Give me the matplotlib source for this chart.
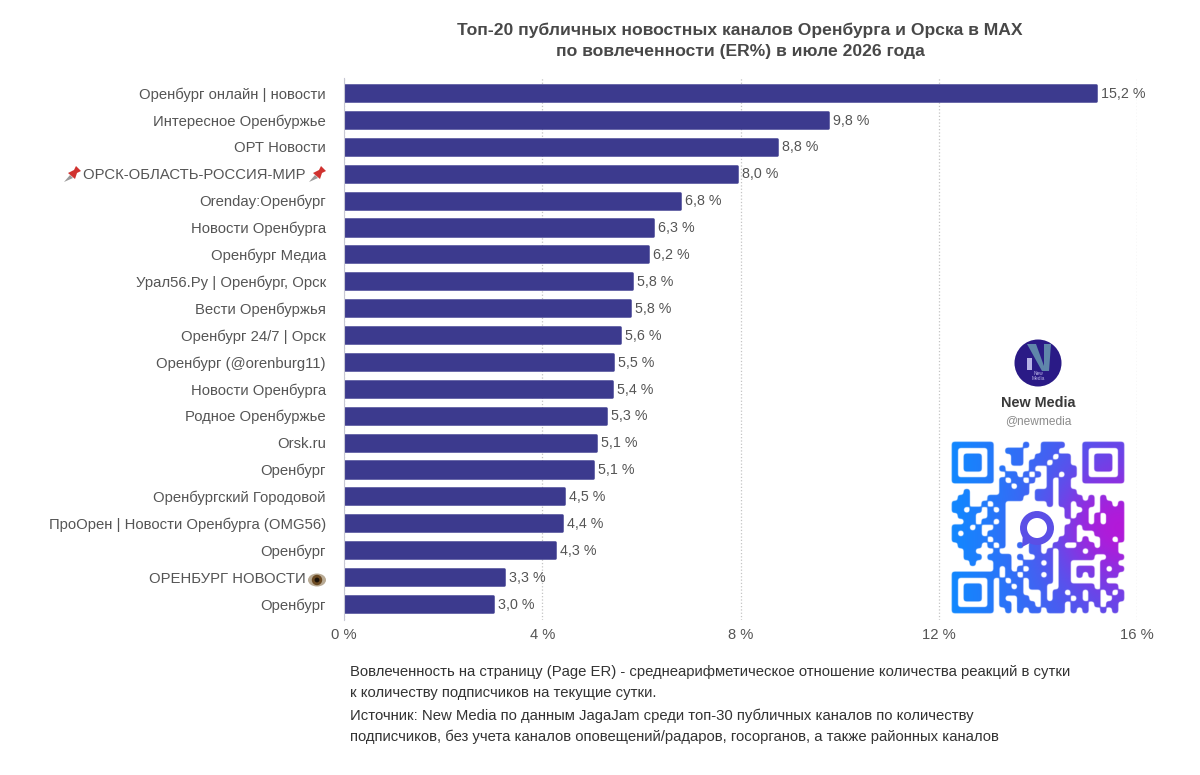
import matplotlib
matplotlib.use("Agg")
import matplotlib.pyplot as plt
from matplotlib.patches import Circle, Polygon, Rectangle, Ellipse
import numpy as np

plt.rcParams['font.family'] = ['Liberation Sans', 'DejaVu Sans']

channels = ["Оренбург онлайн | новости", "Интересное Оренбуржье", "ОРТ Новости",
            "ОРСК-ОБЛАСТЬ-РОССИЯ-МИР", "Orenday:Оренбург", "Новости Оренбурга",
            "Оренбург Медиа", "Урал56.Ру | Оренбург, Орск", "Вести Оренбуржья",
            "Оренбург 24/7 | Орск", "Оренбург (@orenburg11)", "Новости Оренбурга",
            "Родное Оренбуржье", "Orsk.ru", "Оренбург", "Оренбургский Городовой",
            "ПроОрен | Новости Оренбурга (OMG56)", "Оренбург", "ОРЕНБУРГ НОВОСТИ", "Оренбург"]
# bar lengths, the printed labels are rounded
er_values = [15.19, 9.79, 8.76, 7.95, 6.80, 6.26, 6.15, 5.83, 5.79, 5.59,
             5.45, 5.43, 5.31, 5.10, 5.04, 4.46, 4.42, 4.28, 3.25, 3.03]
er_labels = ["15,2 %", "9,8 %", "8,8 %", "8,0 %", "6,8 %", "6,3 %", "6,2 %", "5,8 %", "5,8 %", "5,6 %",
             "5,5 %", "5,4 %", "5,3 %", "5,1 %", "5,1 %", "4,5 %", "4,4 %", "4,3 %", "3,3 %", "3,0 %"]
x_ticks = [0, 4, 8, 12, 16]

title = "Топ-20 публичных новостных каналов Оренбурга и Орска в MAX\nпо вовлеченности (ER%) в июле 2026 года"
footer = ["Вовлеченность на страницу (Page ER) - среднеарифметическое отношение количества реакций в сутки",
          "к количеству подписчиков на текущие сутки.",
          "Источник: New Media по данным JagaJam среди топ-30 публичных каналов по количеству",
          "подписчиков, без учета каналов оповещений/радаров, госорганов, а также районных каналов"]

# QR modules
qr_rows = [
    "#######.....#..####...#######",
    "#.....#..###...###....#.....#",
    "#.###.#...##..###.##..#.###.#",
    "#.###.#...##.###.###..#.###.#",
    "#.###.#.#....#..#####.#.###.#",
    "#.....#..##.#.#.##.##.#.....#",
    "#######.#.##.#..#.##..#######",
    "........##.##...#.##.........",
    "..#.....#####.###.###........",
    ".##...######..###.####.#.#...",
    "###..#.##.......#.##.###.##.#",
    "##.##.#.#..........#..#..####",
    ".###..###..........#.##.#.###",
    "..##.##.#...........###.#.###",
    "###.#..##..........##.#######",
    "#.###.###..........##...#####",
    "######.##.........###.#..##.#",
    ".####.#.#..#.##..##..###.###",
    "..##...#.....##.#.####.#####",
    "..###.####.#..###.######..###",
    "...#...###..###.#.##.....###.",
    ".......#.#.#.####.##.###.#.##",
    "########.##.###.#.##.#.#.###.",
    "#.....#.#.##.####.##.....#...",
    "#.###.#.##.#.###..######.###.",
    "#.###.#.####...#.##.##.##.#.#",
    "#.###.#.#..##..#.###.#.##..##",
    "#.....#.##.###.####.###.#.##.",
    "#######..#.#.##.###.#.#..#.#.",
]

fig = plt.figure(figsize=(12, 7.75), dpi=100, facecolor='white')
ax = fig.add_axes([344 / 1200, (775 - 620) / 775, (1137 - 344) / 1200, (620 - 78) / 775])
y_pos = np.arange(len(channels))

bars = ax.barh(y_pos, np.array(er_values) - 0.025, height=0.6, color='#3c3a8e',
               edgecolor='#3c3a8e', linewidth=1.8, zorder=3)
for b in bars:
    b.set_joinstyle('round')

ax.set_xlim(0, 16)
ax.set_ylim(19.595, -0.558)
ax.set_xticks(x_ticks)
ax.set_xticklabels([f"{t} %" for t in x_ticks], fontsize=10.6, color='#555555')
labels = list(channels)
labels[3] = labels[3] + "     "
labels[18] = labels[18] + "     "
ax.set_yticks(y_pos)
ax.set_yticklabels(labels, fontsize=10.7, color='#555555')
ax.tick_params(axis='y', length=0, pad=13)
ax.tick_params(axis='x', length=0, pad=5.5)
ax.grid(axis='x', linestyle=':', color='#c4c4c4', linewidth=0.9, zorder=0)
for s in ['top', 'right', 'bottom']:
    ax.spines[s].set_visible(False)
ax.spines['left'].set_color('#c8c8d4')
ax.spines['left'].set_zorder(4)

for i, v in enumerate(er_values):
    ax.annotate(er_labels[i], (v, i), xytext=(3, -0.5), textcoords='offset points',
                va='center', ha='left', fontsize=10.3, color='#555555')

# overlay in pixel coordinates for texts and the card
ov = fig.add_axes([0, 0, 1, 1], facecolor='none')
ov.set_xlim(0, 1200)
ov.set_ylim(775, 0)
ov.axis('off')

ov.text(740, 41, title, ha='center', va='center', fontsize=12.6, color='#484848',
        fontweight='bold', linespacing=1.5)
for txt, yy in zip(footer, [672, 693, 716, 737]):
    ov.text(350, yy, txt, ha='left', va='center', fontsize=10.75, color='#333333')


def pin(cx, cy):
    ov.add_patch(Polygon([[cx - 9, cy + 8], [cx - 3, cy + 1], [cx, cy + 4]], color='#9a9a9a', lw=0))
    ov.add_patch(Polygon([[cx - 5, cy - 1], [cx + 1, cy - 4], [cx + 3, cy - 8], [cx + 8, cy - 3],
                          [cx + 4, cy - 1], [cx + 2, cy + 5]], color='#d0322f', lw=0))


pin(73, 174)
pin(318, 174)
ov.add_patch(Ellipse((317, 580), 18, 13, color='#b9ab95', lw=0))
ov.add_patch(Circle((317, 580), 5.2, color='#6b4a22', lw=0))
ov.add_patch(Circle((317, 580), 2.4, color='#1c1208', lw=0))

# logo
ov.add_patch(Circle((1038, 363), 23.5, color='#2a1a86', lw=0))
ov.add_patch(Polygon([[1027, 344], [1036, 344], [1044, 366], [1044, 344], [1051, 344], [1049, 371], [1042, 371]],
                     color='#5f86aa', lw=0))
ov.add_patch(Rectangle((1027, 358), 5, 12, color='#b7b3e6', lw=0))
ov.text(1038, 376, "New\nMedia", ha='center', va='center', fontsize=3.5, color='#b7b3e6', linespacing=1)
ov.text(1038, 403, "New Media", ha='center', va='center', fontsize=10.4, color='#3a3a3a', fontweight='bold')
ov.text(1038, 421, "@newmedia", ha='center', va='center', fontsize=8.6, color='#8c8c8c')

# QR code: masked gradient, the blur and threshold round the module corners
mat = np.array([[c == '#' for c in r.ljust(29, '.')[:29]] for r in qr_rows], dtype=float)
scale = 12
big = np.kron(mat, np.ones((scale, scale)))
big = np.pad(big, scale, constant_values=0)
kernel = np.ones(7) / 7
for _ in range(2):
    big = np.apply_along_axis(lambda r: np.convolve(r, kernel, mode='same'), 0, big)
    big = np.apply_along_axis(lambda r: np.convolve(r, kernel, mode='same'), 1, big)
alpha = np.clip((big - 0.44) * 8 + 0.5, 0, 1)
h, w = alpha.shape
yy, xx = np.mgrid[0:1:h * 1j, 0:1:w * 1j]
blue = np.array([0.07, 0.53, 1.0])
violet = np.array([0.36, 0.30, 0.92])
magenta = np.array([0.70, 0.10, 0.85])
t = np.clip(xx * 1.15 - 0.05, 0, 1)[..., None]
m = np.exp(-(((xx - 0.95) / 0.35) ** 2 + ((yy - 0.5) / 0.32) ** 2))[..., None]
rgb = (1 - t) * blue + t * violet
rgb = (1 - m) * rgb + m * magenta
ov.imshow(np.dstack([rgb, alpha]), extent=(952 - 5.9, 1124 + 5.9, 613 + 5.9, 442 - 5.9),
          interpolation='bilinear', aspect='auto', zorder=2)
ov.set_xlim(0, 1200)
ov.set_ylim(775, 0)
# round mark in the middle of the code
ov.add_patch(Circle((1037, 528), 13.5, facecolor='white', edgecolor='#5b4fe6', linewidth=5, zorder=3))
ov.add_patch(Polygon([[1023, 533], [1030, 543], [1022, 547]], color='#5b4fe6', lw=0, zorder=3))

fig.savefig("out.png", dpi=100, facecolor='white')
